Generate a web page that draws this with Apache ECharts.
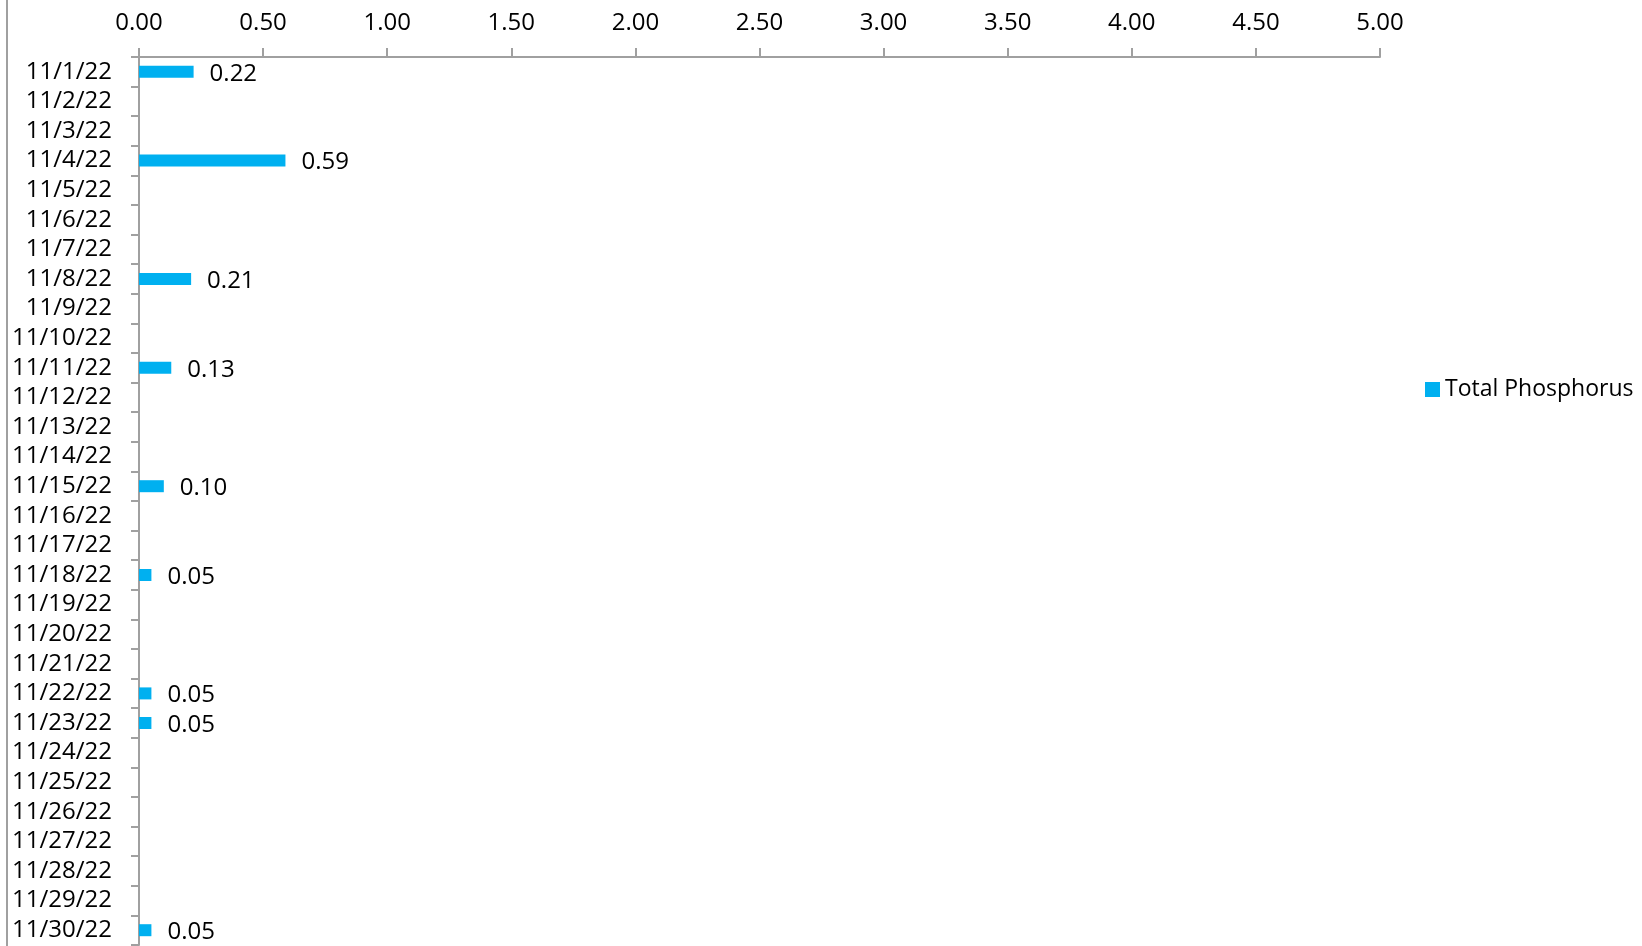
<!DOCTYPE html>
<html>
<head>
<meta charset="utf-8">
<script src="https://cdn.jsdelivr.net/npm/echarts@6/dist/echarts.min.js"></script>
<style>
html,body{margin:0;padding:0;background:#fff;}
#chart{width:1642px;height:946px;}
</style>
</head>
<body>
<div id="chart"></div>
<script>
const categories = ["11/1/22","11/2/22","11/3/22","11/4/22","11/5/22","11/6/22","11/7/22","11/8/22","11/9/22","11/10/22",
  "11/11/22","11/12/22","11/13/22","11/14/22","11/15/22","11/16/22","11/17/22","11/18/22","11/19/22","11/20/22",
  "11/21/22","11/22/22","11/23/22","11/24/22","11/25/22","11/26/22","11/27/22","11/28/22","11/29/22","11/30/22"];
const totalPhosphorus = [0.22,null,null,0.59,null,null,null,0.21,null,null,
  0.13,null,null,null,0.10,null,null,0.05,null,null,
  null,0.05,0.05,null,null,null,null,null,null,0.05];
const seriesName = "Total Phosphorus";
const xMin = 0, xMax = 5, xInterval = 0.5;

const font = '"Open Sans", "Noto Sans", sans-serif';
const axisGray = '#a0a0a0';
const chart = echarts.init(document.getElementById('chart'));
chart.setOption({
  animation: false,
  backgroundColor: '#fff',
  textStyle: {fontFamily: font},
  graphic: [{type:'rect', left:6, top:0, shape:{width:2, height:946}, style:{fill:axisGray}}],
  grid: {left:139, top:57, right:262, bottom:1, containLabel:false},
  legend: {
    data:[seriesName], orient:'vertical', left:1425, top:378, padding:0,
    itemWidth:15, itemHeight:15, icon:'rect', itemGap:7,
    textStyle:{fontSize:23, color:'#000', fontFamily:font}
  },
  xAxis: {
    type:'value', position:'top', min:xMin, max:xMax, interval:xInterval,
    axisLine:{show:true, lineStyle:{color:axisGray, width:2}},
    axisTick:{show:true, length:9, lineStyle:{color:axisGray, width:2}},
    splitLine:{show:false},
    axisLabel:{fontSize:24, color:'#000', margin:22, fontFamily:font,
      formatter: v => v.toFixed(2)}
  },
  yAxis: {
    type:'category', data:categories, inverse:true,
    axisLine:{show:true, lineStyle:{color:axisGray, width:2}},
    axisTick:{show:true, length:8, lineStyle:{color:axisGray, width:2}},
    axisLabel:{fontSize:24, color:'#000', margin:27, fontFamily:font, interval:0}
  },
  series: [{
    name: seriesName, type:'bar', data: totalPhosphorus, barWidth:12,
    itemStyle:{color:'#00B0F0'},
    label:{show:true, position:'right', distance:16, offset:[0,2], fontSize:24, color:'#000', fontFamily:font,
      formatter: p => (p.value == null ? '' : Number(p.value).toFixed(2))}
  }]
});
</script>
</body>
</html>
